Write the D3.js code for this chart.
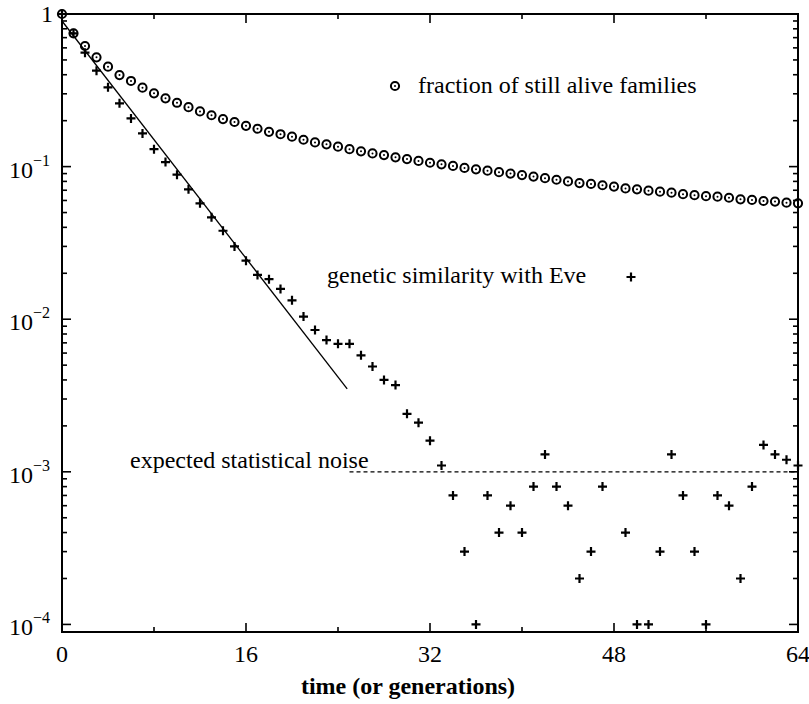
<!DOCTYPE html>
<html>
<head>
<meta charset="utf-8">
<script src="https://cdn.jsdelivr.net/npm/d3@7/dist/d3.min.js"></script>
<style>
  html, body { margin: 0; padding: 0; background: #fff; }
  svg { display: block; }
  text { font-family: "Liberation Serif", "Times New Roman", serif; fill: #000; }
</style>
</head>
<body>
<svg id="chart" width="809" height="704"></svg>
<script>
// Generations (x) for both series
const generations = [
  0, 1, 2, 3, 4, 5, 6, 7, 8, 9, 10, 11, 12, 13, 14, 15, 16,
  17, 18, 19, 20, 21, 22, 23, 24, 25, 26, 27, 28, 29, 30, 31, 32,
  33, 34, 35, 36, 37, 38, 39, 40, 41, 42, 43, 44, 45, 46, 47, 48,
  49, 50, 51, 52, 53, 54, 55, 56, 57, 58, 59, 60, 61, 62, 63, 64
];

// Fraction of families still alive after each generation
const aliveFraction = [
  1.0, 0.747, 0.617, 0.520, 0.452, 0.398, 0.364, 0.329, 0.302, 0.280, 0.262, 0.245, 0.230, 0.217, 0.205, 0.196, 0.185,
  0.177, 0.169, 0.163, 0.157, 0.150, 0.144, 0.140, 0.135, 0.130, 0.126, 0.122, 0.119, 0.115, 0.112, 0.109, 0.106,
  0.1035, 0.101, 0.098, 0.096, 0.094, 0.092, 0.090, 0.088, 0.086, 0.084, 0.082, 0.080, 0.078, 0.077, 0.0755, 0.074,
  0.072, 0.071, 0.0695, 0.0685, 0.0675, 0.066, 0.065, 0.064, 0.0635, 0.0625, 0.061, 0.0605, 0.0595, 0.059, 0.058, 0.0575
];

// Genetic similarity with Eve (null = zero, not shown on the log axis)
const similarity = [
  1.0, 0.747, 0.558, 0.425, 0.331, 0.260, 0.207, 0.165, 0.130, 0.107, 0.0885, 0.071, 0.0575, 0.0465, 0.038, 0.030, 0.0242,
  0.0195, 0.0183, 0.0158, 0.0133, 0.0104, 0.0085, 0.0073, 0.0069, 0.0069, 0.0058, 0.0049, 0.0040, 0.0037, 0.0024, 0.0021, 0.0016,
  0.0011, 0.0007, 0.0003, 0.0001, 0.0007, 0.0004, 0.0006, 0.0004, 0.0008, 0.0013, 0.0008, 0.0006, 0.0002, 0.0003, 0.0008, null,
  0.0004, 0.0001, 0.0001, 0.0003, 0.0013, 0.0007, 0.0003, 0.0001, 0.0007, 0.0006, 0.0002, 0.0008, 0.0015, 0.0013, 0.0012, 0.0011
];

// Exponential fit of the early decay (end points)
const fitT = [0, 24.8];
const fitV = [0.90, 0.0035];

// Expected statistical noise level
const noiseT = [25, 64];
const noiseLevel = 0.001;

// Axis ticks
const xMajorTicks = [0, 16, 32, 48, 64];
const xMinorTicks = [8, 24, 40, 56];
const yDecades = [0, -1, -2, -3, -4];
const yMinorMultipliers = [2, 3, 4, 5, 6, 7, 8, 9];

// Text
const xTitle = "time (or generations)";
const aliveLabel = "fraction of still alive families";
const similarityLabel = "genetic similarity with Eve";
const noiseLabel = "expected statistical noise";

const svg = d3.select("#chart");
const L = 62, R = 798, T = 14, B = 632;

const x = d3.scaleLinear().domain([0, 64]).range([L, R]);
const y = d3.scaleLog().domain([8.92e-5, 1]).range([B, T]);

// Ticks on all four sides, pointing inward
const tickG = svg.append("g").attr("stroke", "#000").attr("stroke-width", 1.6);
function xTick(v, len) {
  tickG.append("line").attr("x1", x(v)).attr("x2", x(v)).attr("y1", B).attr("y2", B - len);
  tickG.append("line").attr("x1", x(v)).attr("x2", x(v)).attr("y1", T).attr("y2", T + len);
}
function yTick(v, len) {
  tickG.append("line").attr("x1", L).attr("x2", L + len).attr("y1", y(v)).attr("y2", y(v));
  tickG.append("line").attr("x1", R).attr("x2", R - len).attr("y1", y(v)).attr("y2", y(v));
}
xMajorTicks.forEach(v => xTick(v, 9));
xMinorTicks.forEach(v => xTick(v, 5));
yDecades.forEach(d => {
  yTick(Math.pow(10, d), 9);
  if (d > -4) yMinorMultipliers.forEach(m => yTick(m * Math.pow(10, d - 1), 5));
});

// Frame
svg.append("rect").attr("x", L).attr("y", T).attr("width", R - L).attr("height", B - T)
  .attr("fill", "none").attr("stroke", "#000").attr("stroke-width", 2);

// X tick labels
svg.append("g").selectAll("text").data(xMajorTicks).join("text")
  .attr("x", d => x(d)).attr("y", 662)
  .attr("text-anchor", "middle").attr("font-size", 24)
  .text(d => d);

// Y tick labels
const yl = svg.append("g");
yDecades.forEach(d => {
  const v = Math.pow(10, d);
  if (d === 0) {
    yl.append("text").attr("x", 53).attr("y", y(v) + 8).attr("text-anchor", "end")
      .attr("font-size", 24).text("1");
  } else {
    const t = yl.append("text").attr("x", 50).attr("y", y(v) + 11).attr("text-anchor", "end")
      .attr("font-size", 24);
    t.append("tspan").text("10");
    t.append("tspan").attr("dy", -12).attr("font-size", 16).text("\u2212" + (-d));
  }
});

// X axis title
svg.append("text").attr("x", 408).attr("y", 694).attr("text-anchor", "middle")
  .attr("font-size", 24).attr("font-weight", "bold").text(xTitle);

// Fit line
svg.append("path")
  .attr("d", d3.line().x(d => x(d[0])).y(d => y(d[1]))(fitT.map((t, i) => [t, fitV[i]])))
  .attr("fill", "none").attr("stroke", "#000").attr("stroke-width", 1.3);

// Noise level (dashed)
svg.append("line")
  .attr("x1", x(noiseT[0])).attr("x2", x(noiseT[1]))
  .attr("y1", y(noiseLevel)).attr("y2", y(noiseLevel))
  .attr("stroke", "#000").attr("stroke-width", 1.2).attr("stroke-dasharray", "4,3");

// Markers
function circleMark(g, cx, cy) {
  g.append("circle").attr("cx", cx).attr("cy", cy).attr("r", 4.1)
    .attr("fill", "none").attr("stroke", "#000").attr("stroke-width", 2);
  g.append("circle").attr("cx", cx).attr("cy", cy).attr("r", 1).attr("fill", "#000");
}
function plusMark(g, cx, cy) {
  g.append("path").attr("d", `M${cx - 4.5},${cy}H${cx + 4.5}M${cx},${cy - 4.5}V${cy + 4.5}`)
    .attr("stroke", "#000").attr("stroke-width", 2.2).attr("fill", "none");
}

const circlesG = svg.append("g");
generations.forEach((t, i) => circleMark(circlesG, x(t), y(aliveFraction[i])));

const plusG = svg.append("g");
generations.forEach((t, i) => {
  if (similarity[i] != null) plusMark(plusG, x(t), y(similarity[i]));
});

// Key entries
circleMark(svg.append("g"), 395, 86);
svg.append("text").attr("x", 418).attr("y", 93).attr("font-size", 24).text(aliveLabel);

svg.append("text").attr("x", 327).attr("y", 283).attr("font-size", 24).text(similarityLabel);
plusMark(svg.append("g"), 631, 277);

svg.append("text").attr("x", 130).attr("y", 468).attr("font-size", 24).text(noiseLabel);
</script>
</body>
</html>
